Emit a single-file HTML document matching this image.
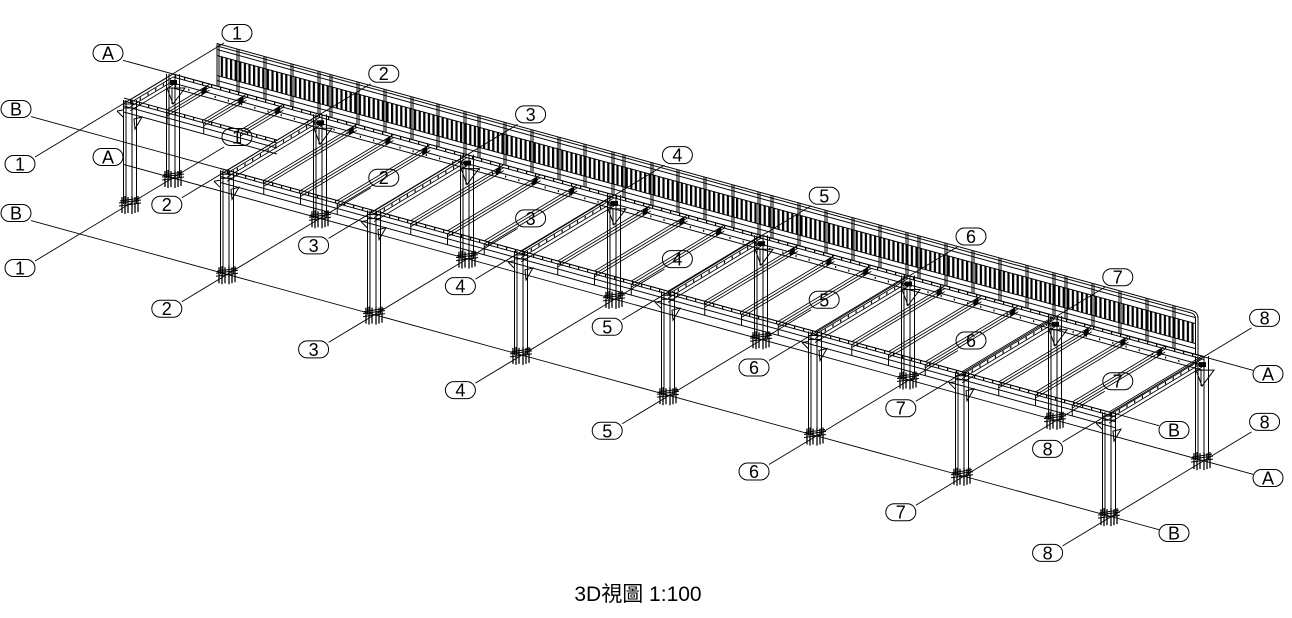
<!DOCTYPE html>
<html><head><meta charset="utf-8"><style>
html,body{margin:0;padding:0;background:#fff;width:1292px;height:618px;overflow:hidden;}
svg{display:block;}
.lb rect{fill:#fff;stroke:#000;stroke-width:1;}
.lbn rect{fill:none;stroke:#000;stroke-width:1;}
.lb text,.lbn text{font-family:"Liberation Sans",sans-serif;font-size:18px;text-anchor:middle;fill:#000;stroke:none;}
</style></head><body>
<svg width="1292" height="618" viewBox="0 0 1292 618" xmlns="http://www.w3.org/2000/svg">
<defs>
<pattern id="pk" patternUnits="userSpaceOnUse" width="4.6" height="60"><rect x="0" y="0" width="2.2" height="60" fill="#000"/></pattern>
<g id="colbase" fill="none" stroke="#000">
  <path d="M-6.5,-104V0 M-4,-104V0 M2,-104V0 M6.5,-104V0" stroke-width="1"/>
  <path d="M-11,-1L11,-4 M-11,2L11,-1 M-10,-3L10,-6" stroke-width="1"/>
  <path d="M-8,-7V9 M-5,-8V10 M-2,-7V9 M2,-8V10 M5,-7V9 M8,-8V8" stroke-width="1.3"/>
</g>
<g id="colB" fill="none" stroke="#000">
  <use href="#colbase"/>
  <path d="M-13,-93L-7,-87 M-13,-93L-7,-94 M4,-85L12,-87L5,-75Z M-7,-100H7 M-7,-96H7" stroke-width="1"/>
</g>
<g id="colA" fill="none" stroke="#000">
  <use href="#colbase"/>
  <path d="M-6,-90L0,-74L12,-90Z M-1,-90V-74" stroke-width="1"/>
  <rect x="-3" y="-98" width="7" height="5" fill="#000" stroke="none"/>
</g>
<g id="joist" transform="matrix(1,-0.60215,0,1,0,0)" fill="none" stroke="#000" stroke-width="1">
  <path d="M-93,0H0 M-93,3H0 M-93,6H0"/>
  <rect x="-8" y="0" width="5" height="6" fill="#000" stroke="none"/>
</g>
<g id="joist1" transform="matrix(1,-0.60215,0,1,0,0)" fill="none" stroke="#000" stroke-width="1">
  <path d="M-42.8,0H0 M-42.8,3H0 M-42.8,6H0"/>
  <rect x="-8" y="0" width="5" height="6" fill="#000" stroke="none"/>
</g>
<g id="gird" transform="matrix(1,-0.60215,0,1,0,0)" fill="none" stroke="#000" stroke-width="1">
  <path d="M-93,0H0 M-93,3H0 M-93,7H0 M-93,11H0"/>
  <path d="M-91,5H-2" stroke-width="2.5" stroke-dasharray="1.2 6.5"/>
</g>
<g id="gird1" transform="matrix(1,-0.60215,0,1,0,0)" fill="none" stroke="#000" stroke-width="1">
  <path d="M-42.8,0H0 M-42.8,3H0 M-42.8,7H0 M-42.8,11H0"/>
  <path d="M-41,5H-2" stroke-width="2.5" stroke-dasharray="1.2 6.5"/>
</g>
</defs>

<!-- grid lines -->
<g stroke="#000" stroke-width="0.9" fill="none">
<line x1="123" y1="60.3" x2="1253" y2="370.3"/>
<line x1="31" y1="116.6" x2="1159" y2="425.7"/>
<line x1="123" y1="164.3" x2="1253" y2="474.3"/>
<line x1="31" y1="220.6" x2="1159" y2="529.7"/>
<line x1="224" y1="43" x2="35" y2="157"/>
<line x1="370.8" y1="83.7" x2="181.8" y2="197.7"/>
<line x1="517.6" y1="124.4" x2="328.6" y2="238.4"/>
<line x1="664.4" y1="165.1" x2="475.4" y2="279.1"/>
<line x1="811.2" y1="205.8" x2="622.2" y2="319.8"/>
<line x1="958" y1="246.5" x2="769" y2="360.5"/>
<line x1="1104.8" y1="287.2" x2="915.8" y2="401.2"/>
<line x1="1251.6" y1="327.9" x2="1062.6" y2="441.9"/>
<line x1="224" y1="147" x2="35" y2="261"/>
<line x1="370.8" y1="187.7" x2="181.8" y2="301.7"/>
<line x1="517.6" y1="228.4" x2="328.6" y2="342.4"/>
<line x1="664.4" y1="269.1" x2="475.4" y2="383.1"/>
<line x1="811.2" y1="309.8" x2="622.2" y2="423.8"/>
<line x1="958" y1="350.5" x2="769" y2="464.5"/>
<line x1="1104.8" y1="391.2" x2="915.8" y2="505.2"/>
<line x1="1251.6" y1="431.9" x2="1062.6" y2="545.9"/>
</g>

<!-- ground-level upper labels (behind structure) -->
<g class="lbn">
<g transform="translate(237,137)"><rect x="-15" y="-8.5" width="30" height="17" rx="8.5"/><text y="6.5">1</text></g>
<g transform="translate(383.8,177.7)"><rect x="-15" y="-8.5" width="30" height="17" rx="8.5"/><text y="6.5">2</text></g>
<g transform="translate(530.6,218.4)"><rect x="-15" y="-8.5" width="30" height="17" rx="8.5"/><text y="6.5">3</text></g>
<g transform="translate(677.4,259.1)"><rect x="-15" y="-8.5" width="30" height="17" rx="8.5"/><text y="6.5">4</text></g>
<g transform="translate(824.2,299.8)"><rect x="-15" y="-8.5" width="30" height="17" rx="8.5"/><text y="6.5">5</text></g>
<g transform="translate(971,340.5)"><rect x="-15" y="-8.5" width="30" height="17" rx="8.5"/><text y="6.5">6</text></g>
<g transform="translate(1117.8,381.2)"><rect x="-15" y="-8.5" width="30" height="17" rx="8.5"/><text y="6.5">7</text></g>
</g>

<!-- columns -->
<use href="#colA" x="173" y="178"/>
<use href="#colA" x="320" y="218.3"/>
<use href="#colA" x="467" y="258.6"/>
<use href="#colA" x="614" y="298.9"/>
<use href="#colA" x="761" y="339.2"/>
<use href="#colA" x="908" y="379.5"/>
<use href="#colA" x="1055" y="419.8"/>
<use href="#colA" x="1202" y="460.1"/>
<use href="#colB" x="130" y="204"/>
<use href="#colB" x="227" y="274.3"/>
<use href="#colB" x="374" y="314.6"/>
<use href="#colB" x="521" y="354.9"/>
<use href="#colB" x="668" y="395.2"/>
<use href="#colB" x="815" y="435.5"/>
<use href="#colB" x="962" y="475.8"/>
<use href="#colB" x="1109" y="516.1"/>

<!-- U-direction members (railing, long beams) -->
<g transform="matrix(1,0.27405,0,1,0,0)" stroke="#000" stroke-width="1" fill="none">
  <rect x="219" y="-4" width="977" height="20" fill="url(#pk)" stroke="none"/>
  <path d="M217,-16H1192Q1198,-16 1198,-10V26.6"/>
  <path d="M217,-13.5H1191Q1195.5,-13.5 1195.5,-9V26.6"/>
  <path d="M217,-10H1195 M217,-4H1196 M217,16H1196 M217,21H1196"/>
  <path d="M217,-16V26.6 M219,-16V26.6 M237,-16V27 M239,-16V27 M264,-16V27 M266,-16V27 M291,-16V27 M293,-16V27 M318,-16V27 M320,-16V27 M330,-16V27 M332,-16V27 M357,-16V27 M359,-16V27 M384,-16V27 M386,-16V27 M411,-16V27 M413,-16V27 M437,-16V27 M439,-16V27 M464,-16V27 M466,-16V27 M478,-16V27 M480,-16V27 M504,-16V27 M506,-16V27 M531,-16V27 M533,-16V27 M558,-16V27 M560,-16V27 M584,-16V27 M586,-16V27 M612,-16V27 M614,-16V27 M623,-16V27 M625,-16V27 M651,-16V27 M653,-16V27 M677,-16V27 M679,-16V27 M704,-16V27 M706,-16V27 M732,-16V27 M734,-16V27 M758,-16V27 M760,-16V27 M771,-16V27 M773,-16V27 M798,-16V27 M800,-16V27 M825,-16V27 M827,-16V27 M852,-16V27 M854,-16V27 M879,-16V27 M881,-16V27 M906,-16V27 M908,-16V27 M918,-16V27 M920,-16V27 M945,-16V27 M947,-16V27 M972,-16V27 M974,-16V27 M999,-16V27 M1001,-16V27 M1026,-16V27 M1028,-16V27 M1053,-16V27 M1055,-16V27 M1065,-16V27 M1067,-16V27 M1092,-16V27 M1094,-16V27 M1119,-16V27 M1121,-16V27 M1146,-16V27 M1148,-16V27 M1173,-16V27 M1175,-16V27"/>
  <!-- back beam A -->
  <path d="M173,26.6H1204 M173,29.6H1204 M173,35.6H1204 M173,40.6H1204"/>
  <path d="M175,28.1H1200" stroke-width="3" stroke-dasharray="1.2 7.8"/>
  <path d="M175,38H1200" stroke-width="2" stroke-dasharray="1.2 12"/>
  <!-- front beam B -->
  <path d="M221,108.1H1115 M221,111.1H1115 M221,116.1H1115 M221,122.1H1115"/>
  <path d="M227,109.6H1109" stroke-width="3" stroke-dasharray="1.2 7.8"/>
  <path d="M263.75,111.1V122.1 M300.5,111.1V122.1 M337.25,111.1V122.1 M410.75,111.1V122.1 M447.5,111.1V122.1 M484.25,111.1V122.1 M557.75,111.1V122.1 M594.5,111.1V122.1 M631.25,111.1V122.1 M704.75,111.1V122.1 M741.5,111.1V122.1 M778.25,111.1V122.1 M851.75,111.1V122.1 M888.5,111.1V122.1 M925.25,111.1V122.1 M998.75,111.1V122.1 M1035.5,111.1V122.1 M1072.25,111.1V122.1"/>
  <!-- bay 1 front beam -->
  <path d="M124,64.1H277 M124,67.1H277 M124,72.1H277 M124,78.1H277"/>
  <path d="M130,65.6H277" stroke-width="3" stroke-dasharray="1.2 7.8"/>
  <path d="M166.95,67.1V78.1 M203.7,67.1V78.1 M240.45,67.1V78.1"/>
</g>

<!-- V-direction members: girders -->
<use href="#gird1" x="173" y="74"/>
<use href="#gird" x="320" y="114.3"/>
<use href="#gird" x="467" y="154.6"/>
<use href="#gird" x="614" y="194.9"/>
<use href="#gird" x="761" y="235.2"/>
<use href="#gird" x="908" y="275.5"/>
<use href="#gird" x="1055" y="315.8"/>
<use href="#gird" x="1202" y="356.1"/>
<!-- joists -->
<use href="#joist1" x="209.75" y="84.08"/>
<use href="#joist1" x="246.5" y="94.15"/>
<use href="#joist1" x="283.25" y="104.23"/>
<use href="#joist" x="356.75" y="124.38"/>
<use href="#joist" x="393.5" y="134.45"/>
<use href="#joist" x="430.25" y="144.53"/>
<use href="#joist" x="503.75" y="164.68"/>
<use href="#joist" x="540.5" y="174.75"/>
<use href="#joist" x="577.25" y="184.83"/>
<use href="#joist" x="650.75" y="204.98"/>
<use href="#joist" x="687.5" y="215.05"/>
<use href="#joist" x="724.25" y="225.13"/>
<use href="#joist" x="797.75" y="245.28"/>
<use href="#joist" x="834.5" y="255.35"/>
<use href="#joist" x="871.25" y="265.43"/>
<use href="#joist" x="944.75" y="285.58"/>
<use href="#joist" x="981.5" y="295.65"/>
<use href="#joist" x="1018.25" y="305.73"/>
<use href="#joist" x="1091.75" y="325.88"/>
<use href="#joist" x="1128.5" y="335.95"/>
<use href="#joist" x="1165.25" y="346.03"/>

<!-- outside labels -->
<g class="lb">
<g transform="translate(108,53)"><rect x="-15" y="-8.5" width="30" height="17" rx="8.5"/><text y="6.5">A</text></g>
<g transform="translate(16,109)"><rect x="-15" y="-8.5" width="30" height="17" rx="8.5"/><text y="6.5">B</text></g>
<g transform="translate(108,157)"><rect x="-15" y="-8.5" width="30" height="17" rx="8.5"/><text y="6.5">A</text></g>
<g transform="translate(16,213)"><rect x="-15" y="-8.5" width="30" height="17" rx="8.5"/><text y="6.5">B</text></g>
<g transform="translate(1268,374)"><rect x="-15" y="-8.5" width="30" height="17" rx="8.5"/><text y="6.5">A</text></g>
<g transform="translate(1174,430)"><rect x="-15" y="-8.5" width="30" height="17" rx="8.5"/><text y="6.5">B</text></g>
<g transform="translate(1268,478)"><rect x="-15" y="-8.5" width="30" height="17" rx="8.5"/><text y="6.5">A</text></g>
<g transform="translate(1174,533)"><rect x="-15" y="-8.5" width="30" height="17" rx="8.5"/><text y="6.5">B</text></g>

<g transform="translate(237,33)"><rect x="-15" y="-8.5" width="30" height="17" rx="8.5"/><text y="6.5">1</text></g>
<g transform="translate(383.8,73.7)"><rect x="-15" y="-8.5" width="30" height="17" rx="8.5"/><text y="6.5">2</text></g>
<g transform="translate(530.6,114.4)"><rect x="-15" y="-8.5" width="30" height="17" rx="8.5"/><text y="6.5">3</text></g>
<g transform="translate(677.4,155.1)"><rect x="-15" y="-8.5" width="30" height="17" rx="8.5"/><text y="6.5">4</text></g>
<g transform="translate(824.2,195.8)"><rect x="-15" y="-8.5" width="30" height="17" rx="8.5"/><text y="6.5">5</text></g>
<g transform="translate(971,236.5)"><rect x="-15" y="-8.5" width="30" height="17" rx="8.5"/><text y="6.5">6</text></g>
<g transform="translate(1117.8,277.2)"><rect x="-15" y="-8.5" width="30" height="17" rx="8.5"/><text y="6.5">7</text></g>
<g transform="translate(1264.6,317.9)"><rect x="-15" y="-8.5" width="30" height="17" rx="8.5"/><text y="6.5">8</text></g>

<g transform="translate(20,164)"><rect x="-15" y="-8.5" width="30" height="17" rx="8.5"/><text y="6.5">1</text></g>
<g transform="translate(166.8,204.7)"><rect x="-15" y="-8.5" width="30" height="17" rx="8.5"/><text y="6.5">2</text></g>
<g transform="translate(313.6,245.4)"><rect x="-15" y="-8.5" width="30" height="17" rx="8.5"/><text y="6.5">3</text></g>
<g transform="translate(460.4,286.1)"><rect x="-15" y="-8.5" width="30" height="17" rx="8.5"/><text y="6.5">4</text></g>
<g transform="translate(607.2,326.8)"><rect x="-15" y="-8.5" width="30" height="17" rx="8.5"/><text y="6.5">5</text></g>
<g transform="translate(754,367.5)"><rect x="-15" y="-8.5" width="30" height="17" rx="8.5"/><text y="6.5">6</text></g>
<g transform="translate(900.8,408.2)"><rect x="-15" y="-8.5" width="30" height="17" rx="8.5"/><text y="6.5">7</text></g>
<g transform="translate(1047.6,448.9)"><rect x="-15" y="-8.5" width="30" height="17" rx="8.5"/><text y="6.5">8</text></g>

<g transform="translate(1264.6,421.9)"><rect x="-15" y="-8.5" width="30" height="17" rx="8.5"/><text y="6.5">8</text></g>

<g transform="translate(20,268)"><rect x="-15" y="-8.5" width="30" height="17" rx="8.5"/><text y="6.5">1</text></g>
<g transform="translate(166.8,308.7)"><rect x="-15" y="-8.5" width="30" height="17" rx="8.5"/><text y="6.5">2</text></g>
<g transform="translate(313.6,349.4)"><rect x="-15" y="-8.5" width="30" height="17" rx="8.5"/><text y="6.5">3</text></g>
<g transform="translate(460.4,390.1)"><rect x="-15" y="-8.5" width="30" height="17" rx="8.5"/><text y="6.5">4</text></g>
<g transform="translate(607.2,430.8)"><rect x="-15" y="-8.5" width="30" height="17" rx="8.5"/><text y="6.5">5</text></g>
<g transform="translate(754,471.5)"><rect x="-15" y="-8.5" width="30" height="17" rx="8.5"/><text y="6.5">6</text></g>
<g transform="translate(900.8,512.2)"><rect x="-15" y="-8.5" width="30" height="17" rx="8.5"/><text y="6.5">7</text></g>
<g transform="translate(1047.6,552.9)"><rect x="-15" y="-8.5" width="30" height="17" rx="8.5"/><text y="6.5">8</text></g>
</g>

<text x="638" y="601" font-size="21" text-anchor="middle" fill="#000" font-family="'Liberation Sans','Noto Sans CJK TC',sans-serif">3D視圖 1:100</text>
</svg>
</body></html>
